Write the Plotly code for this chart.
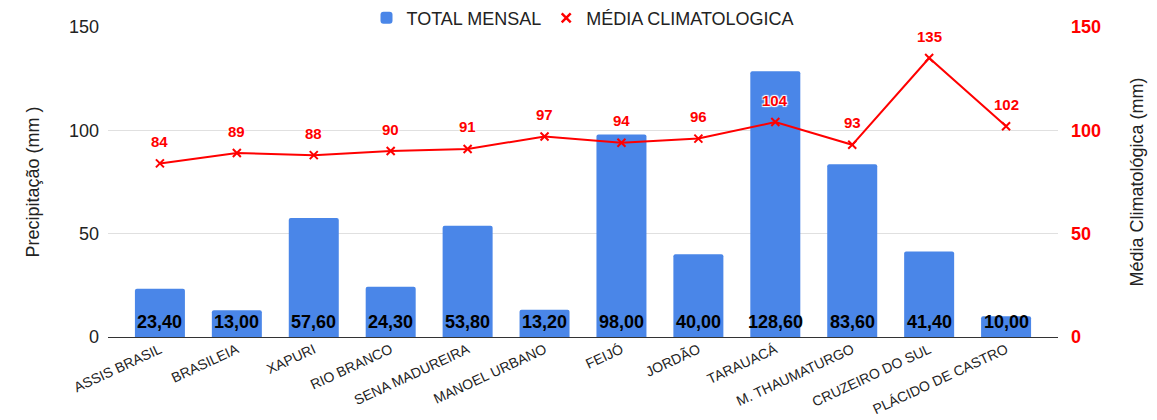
import plotly.graph_objects as go

estacoes = ["ASSIS BRASIL", "BRASILEIA", "XAPURI", "RIO BRANCO", "SENA MADUREIRA",
            "MANOEL URBANO", "FEIJÓ", "JORDÃO", "TARAUACÁ", "M. THAUMATURGO",
            "CRUZEIRO DO SUL", "PLÁCIDO DE CASTRO"]
total_mensal = [23.40, 13.00, 57.60, 24.30, 53.80, 13.20, 98.00, 40.00, 128.60, 83.60, 41.40, 10.00]
media_climatologica = [84, 89, 88, 90, 91, 97, 94, 96, 104, 93, 135, 102]
yticks = [0, 50, 100, 150]

bar_labels = [f"{v:.2f}".replace(".", ",") for v in total_mensal]
FONT = "Liberation Sans, Arial"

fig = go.Figure()
fig.add_trace(go.Bar(
    x=estacoes, y=total_mensal, name="TOTAL MENSAL",
    marker=dict(color="#4a86e8", line=dict(width=0)),
    marker_cornerradius=2,
))
fig.add_trace(go.Scatter(
    x=estacoes, y=media_climatologica, name="MÉDIA CLIMATOLOGICA", yaxis="y2",
    mode="lines+markers", showlegend=False,
    line=dict(color="#ff0000", width=2),
    marker=dict(symbol="x-thin", size=8, color="#ff0000", line=dict(color="#ff0000", width=2)),
))
# legend entry (marker only, as in the reference)
fig.add_trace(go.Scatter(
    x=[None], y=[None], name="MÉDIA CLIMATOLOGICA", yaxis="y2", mode="markers",
    marker=dict(symbol="x-thin", size=9, color="#ff0000", line=dict(color="#ff0000", width=2.5)),
))

for xv, lab in zip(estacoes, bar_labels):
    fig.add_annotation(
        x=xv, y=0, yref="y", text=f"<b>{lab}</b>", showarrow=False,
        yanchor="bottom", yshift=3,
        font=dict(family=FONT, size=18, color="black"),
    )

for xv, yv in zip(estacoes, media_climatologica):
    fig.add_annotation(
        x=xv, y=yv, yref="y2", text=f"<b>{yv}</b>", showarrow=False,
        yshift=22, font=dict(family=FONT, size=15, color="#ff0000",
                             shadow="1px 1px 1px white, -1px -1px 1px white, 1px -1px 1px white, -1px 1px 1px white"),
    )

fig.update_layout(
    width=1157, height=420,
    margin=dict(l=108, r=99, t=27, b=83, autoexpand=False),
    plot_bgcolor="white", paper_bgcolor="white",
    font=dict(family=FONT, color="#222"),
    bargap=0.35,
    showlegend=True,
    legend=dict(orientation="h", x=0.5, xanchor="center", yref="container", y=0.957, yanchor="middle",
                font=dict(size=18, color="#222"), itemwidth=30, traceorder="normal"),
    xaxis=dict(range=[-0.675, 11.675], tickangle=-25, showgrid=False,
               tickfont=dict(size=14, color="#222"), showline=False, ticks="", ticklabelstandoff=1),
    yaxis=dict(range=[0, 150], tickvals=yticks, showgrid=True, gridcolor="#e0e0e0",
               zeroline=True, zerolinecolor="#333", zerolinewidth=1,
               tickfont=dict(size=18, color="#222"), ticks="", ticklabelstandoff=8,
               title=dict(text="Precipitação (mm )", font=dict(size=18, color="#222"), standoff=24)),
    yaxis2=dict(range=[0, 150], tickvals=yticks, overlaying="y", side="right", showgrid=False,
                zeroline=False, tickfont=dict(size=18, color="#ff0000", weight="bold"),
                ticks="", ticklabelstandoff=12,
                title=dict(text="Média Climatológica (mm)", font=dict(size=18, color="#222"), standoff=30)),
)

fig.write_html("out.html", config={"displayModeBar": False},
               post_script="document.body.style.margin='0px';document.body.style.overflow='hidden';")
